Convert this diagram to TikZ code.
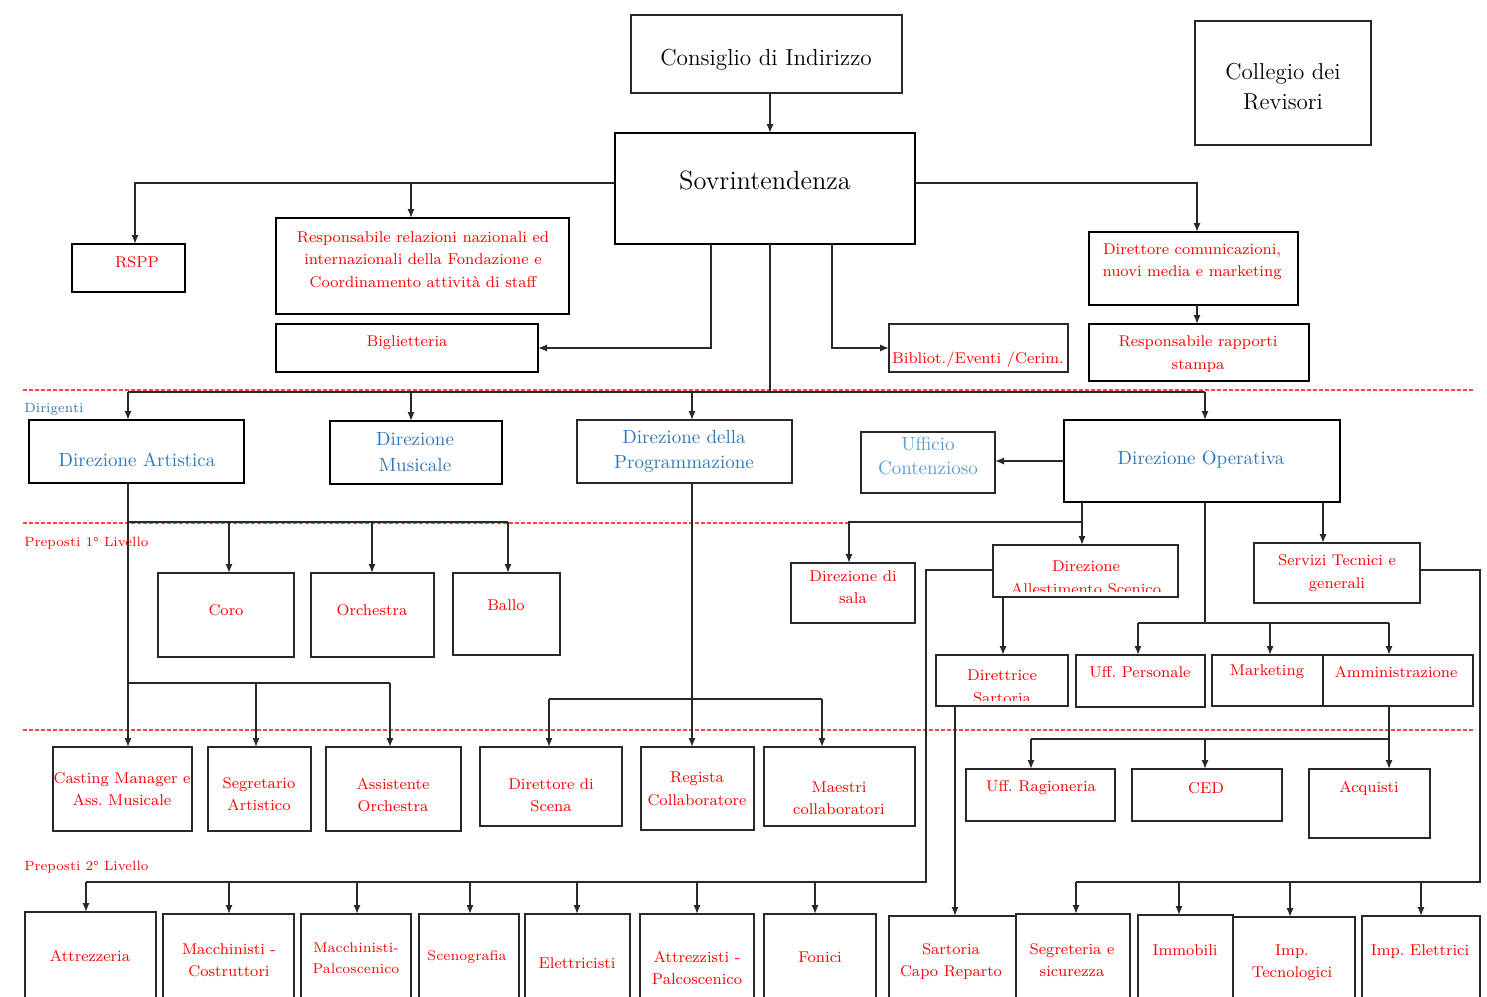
\documentclass[tikz,border=0pt]{standalone}
\usetikzlibrary{arrows.meta,fit}
\definecolor{rd}{RGB}{255,0,0}
\definecolor{bl}{RGB}{46,117,182}
\definecolor{lbl}{RGB}{91,155,213}
\definecolor{dsh}{RGB}{255,70,70}
\definecolor{ln}{RGB}{40,40,40}
\newcommand\bx[6][]{\node[box,#1,fit={(#3,#4)(#5,#6)}] (#2) {};}
\begin{document}
\frenchspacing
\begin{tikzpicture}[x=0.5pt,y=-0.5pt,
  box/.style={draw=ln,line width=0.7pt,inner sep=0pt,outer sep=0pt},
  thickbox/.style={line width=1.3pt,draw=black},
  thinbox/.style={line width=0.6pt},
  conn/.style={draw=ln,line width=0.8pt},
  arr/.style={conn,-{Latex[length=4.5pt,width=3.6pt]}},
  dline/.style={draw=dsh,line width=0.6pt,dash pattern=on 2pt off 1pt},
  rt/.style={text=rd,font=\fontsize{7.8}{11.2}\selectfont,align=center,inner sep=0pt},
  rs/.style={text=rd,font=\fontsize{7}{10.5}\selectfont,align=center,inner sep=0pt},
  bt/.style={text=bl,font=\fontsize{9.5}{12.8}\selectfont,align=center,inner sep=0pt},
  lt/.style={text=lbl,font=\fontsize{9.5}{12}\selectfont,align=center,inner sep=0pt},
  kt/.style={text=black,align=center,inner sep=0pt},
  lab/.style={font=\fontsize{6.7}{9}\selectfont,anchor=west,inner sep=0pt}]
\useasboundingbox (0,0) rectangle (1487,996);
\clip (0,0) rectangle (1487,996);

% level separators
\draw[dline] (23,390) -- (1473,390);
\draw[dline] (23,523) -- (849,523);
\draw[dline] (23,730) -- (1473,730);

% boxes
\bx[thinbox]{cons}{631}{15}{902}{93}
\bx[thinbox]{coll}{1195}{21}{1371}{145}
\bx[thickbox]{sov}{615}{133}{915}{244}
\bx[thickbox]{rspp}{72}{244}{185}{292}
\bx[thickbox]{resp}{276}{218}{569}{314}
\bx[thickbox]{big}{276}{324}{538}{372}
\bx{bib}{889}{324}{1068}{372}
\bx[thickbox]{dircom}{1089}{232}{1298}{305}
\bx[thickbox]{stampa}{1089}{324}{1309}{381}
\bx[thickbox]{dirart}{29}{420}{244}{483}
\bx[thickbox]{dirmus}{330}{421}{502}{484}
\bx{dirprog}{577}{420}{792}{483}
\bx{uff}{861}{432}{995}{493}
\bx[thickbox]{dirop}{1064}{420}{1340}{502}
\bx{coro}{158}{573}{294}{657}
\bx{orch}{311}{573}{434}{657}
\bx{ballo}{453}{573}{560}{655}
\bx{sala}{791}{563}{915}{623}
\bx{allest}{993}{545}{1178}{597}
\bx{serv}{1254}{543}{1420}{603}
\bx{dirsart}{936}{655}{1068}{706}
\bx{pers}{1076}{655}{1205}{707}
\bx{mkt}{1212}{655}{1323}{706}
\bx{amm}{1323}{655}{1473}{706}
\bx{casting}{53}{747}{192}{831}
\bx{segr}{208}{747}{311}{831}
\bx{assist}{326}{747}{461}{831}
\bx{dirscena}{480}{747}{622}{826}
\bx{regista}{641}{747}{754}{830}
\bx{maestri}{764}{747}{915}{826}
\bx{rag}{966}{769}{1115}{821}
\bx{ced}{1132}{769}{1282}{821}
\bx{acq}{1309}{769}{1430}{838}
\bx{attrz}{25}{912}{156}{1010}
\bx{maccc}{163}{914}{294}{1010}
\bx{maccp}{301}{914}{411}{1010}
\bx{scen}{419}{914}{519}{1010}
\bx{elett}{525}{914}{630}{1010}
\bx{attrp}{640}{914}{754}{1010}
\bx{fonici}{764}{914}{876}{1010}
\bx{sart}{889}{916}{1016}{1010}
\bx{segsic}{1016}{914}{1130}{1010}
\bx{immob}{1138}{915}{1233}{1010}
\bx{imptec}{1233}{917}{1355}{1010}
\bx{impel}{1362}{916}{1480}{1010}

% connectors: top
\draw[arr] (cons.south -| 770,0) -- (sov.north -| 770,0);
\draw[arr] (sov.west |- 0,183) -| (rspp.north -| 135,0);
\coordinate (jr) at (411,183);
\draw[arr] (jr) -- (resp.north -| jr);
\draw[arr] (sov.east |- 0,183) -| (dircom.north -| 1197,0);
\draw[arr] (dircom.south -| 1197,0) -- (stampa.north -| 1197,0);
\draw[arr] (sov.south -| 711,0) |- (big.east);
\draw[arr] (sov.south -| 832,0) |- (bib.west);

% trunk to Dirigenti
\coordinate (t) at (770,392);
\coordinate (tl) at (128,392);
\coordinate (tr) at (1205,392);
\draw[conn] (sov.south -| t) -- (t);
\draw[conn] (tl) -- (tr);
\draw[arr] (tl) -- (dirart.north -| tl);
\draw[arr] (tl -| 411,0) -- (dirmus.north -| 411,0);
\draw[arr] (tl -| 692,0) -- (dirprog.north -| 692,0);
\draw[arr] (tr) -- (dirop.north -| tr);
\draw[arr] (dirop.west) -- (uff.east |- dirop.west);

% Direzione Artistica
\draw[arr] (dirart.south -| 128,0) -- (casting.north -| 128,0);
\coordinate (a1) at (128,522);
\coordinate (a2) at (508,522);
\draw[conn] (a1) -- (a2);
\draw[arr] (a1 -| 229,0) -- (coro.north -| 229,0);
\draw[arr] (a1 -| 372,0) -- (orch.north -| 372,0);
\draw[arr] (a2) -- (ballo.north -| a2);
\coordinate (b1) at (128,683);
\coordinate (b2) at (390,683);
\draw[conn] (b1) -- (b2);
\draw[arr] (b1 -| 256,0) -- (segr.north -| 256,0);
\draw[arr] (b2) -- (assist.north -| b2);

% Direzione della Programmazione
\draw[arr] (dirprog.south -| 692,0) -- (regista.north -| 692,0);
\coordinate (p1) at (549,699);
\coordinate (p2) at (822,699);
\draw[conn] (p1) -- (p2);
\draw[arr] (p1) -- (dirscena.north -| p1);
\draw[arr] (p2) -- (maestri.north -| p2);

% Direzione Operativa
\draw[arr] (dirop.south -| 1082,0) -- (allest.north -| 1082,0);
\coordinate (o1) at (1082,522);
\draw[arr] (o1) -| (sala.north -| 849,0);
\coordinate (o2) at (1205,623);
\coordinate (o3) at (1138,623);
\coordinate (o4) at (1389,623);
\draw[conn] (dirop.south -| o2) -- (o2);
\draw[conn] (o3) -- (o4);
\draw[arr] (o3) -- (pers.north -| o3);
\draw[arr] (o2 -| 1270,0) -- (mkt.north -| 1270,0);
\draw[arr] (o4) -- (amm.north -| o4);
\draw[arr] (dirop.south -| 1323,0) -- (serv.north -| 1323,0);

% Direzione Allestimento Scenico
\draw[arr] (allest.south -| 1003,0) -- (dirsart.north -| 1003,0);
\coordinate (s1) at (926,882);
\coordinate (s0) at (86,882);
\draw[conn] (allest.west |- 0,570) -| (s1) -- (s0);
\foreach \n/\x in {attrz/86,maccc/229,maccp/357,scen/470,elett/577,attrp/697,fonici/815}
  \draw[arr] (s0 -| \x,0) -- (\n.north -| \x,0);
\draw[arr] (dirsart.south -| 955,0) -- (sart.north -| 955,0);

% Servizi Tecnici
\coordinate (v1) at (1480,882);
\coordinate (v0) at (1076,882);
\draw[conn] (serv.east |- 0,570) -| (v1) -- (v0);
\foreach \n/\x in {segsic/1076,immob/1179,imptec/1290,impel/1421}
  \draw[arr] (v0 -| \x,0) -- (\n.north -| \x,0);

% Amministrazione
\coordinate (m1) at (1389,739);
\coordinate (m0) at (1031,739);
\draw[conn] (amm.south -| m1) -- (m1) -- (m0);
\foreach \n/\x in {rag/1031,ced/1205,acq/1389}
  \draw[arr] (m0 -| \x,0) -- (\n.north -| \x,0);

% level labels
\node[lab,text=bl] (ldir) at (24,409) {Dirigenti};
\node[lab,text=rd] (lp1) at (24,543) {Preposti 1° Livello};
\node[lab,text=rd] (lp2) at (24,867) {Preposti 2° Livello};

% texts
\node[kt,font=\fontsize{11.6}{15}\selectfont] (tcons) at (766,60) {Consiglio di Indirizzo};
\node[kt,font=\fontsize{11.5}{15}\selectfont] (tcoll) at (1283,87) {Collegio dei\\Revisori};
\node[kt,font=\fontsize{13.2}{16}\selectfont] (tsov) at (765,180) {Sovrintendenza};
\node[rt] (trspp) at (137,262) {RSPP};
\node[rt] (tresp) at (423,259.5) {Responsabile relazioni nazionali  ed\\internazionali della Fondazione e\\Coordinamento attività di staff};
\node[rt] (tbig) at (407,343) {Biglietteria};
\node[rt] (tbib) at (978,360) {Bibliot./Eventi /Cerim.};
\node[rt] (tdircom) at (1192,261.5) {Direttore comunicazioni,\\nuovi media e marketing};
\node[rt] (tstampa) at (1198,354) {Responsabile rapporti\\stampa};
\node[bt] (tdirart) at (137,460) {Direzione Artistica};
\node[bt] (tdirmus) at (415,452) {Direzione\\Musicale};
\node[bt] (tdirprog) at (684,451.5) {Direzione della\\Programmazione};
\node[lt] (tuff) at (928,456) {Ufficio\\Contenzioso};
\node[bt] (tdirop) at (1201,460) {Direzione Operativa};
\node[rt] (tcoro) at (226,610) {Coro};
\node[rt] (torch) at (372,610) {Orchestra};
\node[rt] (tballo) at (506,605) {Ballo};
\node[rt] (tsala) at (853,587) {Direzione di\\sala};
\begin{scope}
  \clip (993,545) rectangle (1178,591);
  \node[rt] (tallest) at (1086,578) {Direzione\\Allestimento Scenico};
\end{scope}
\node[rt] (tserv) at (1337,573) {Servizi Tecnici e\\generali};
\begin{scope}
  \clip (936,655) rectangle (1068,700);
  \node[rt] (tdirsart) at (1002,687) {Direttrice\\Sartoria};
\end{scope}
\node[rt] (tpers) at (1140,672) {Uff. Personale};
\node[rt] (tmkt) at (1267,672) {Marketing};
\node[rt] (tamm) at (1396,672) {Amministrazione};
\node[rt] (tcasting) at (122,789) {Casting Manager e\\Ass. Musicale};
\node[rt] (tsegr) at (259,794) {Segretario\\Artistico};
\node[rt] (tassist) at (393,795) {Assistente\\Orchestra};
\node[rt] (tdirscena) at (551,795) {Direttore di\\Scena};
\node[rt] (tregista) at (697,789) {Regista\\Collaboratore};
\node[rt] (tmaestri) at (839,798) {Maestri\\collaboratori};
\node[rt] (trag) at (1041,788) {Uff. Ragioneria};
\node[rt] (tced) at (1206,788) {CED};
\node[rt] (tacq) at (1369,788) {Acquisti};
\node[rt] (tattrz) at (90,956) {Attrezzeria};
\node[rt] (tmaccc) at (229,960) {Macchinisti -\\Costruttori};
\node[rs] (tmaccp) at (356,958.5) {Macchinisti-\\Palcoscenico};
\node[rs] (tscen) at (467,957) {Scenografia};
\node[rt] (telett) at (577,963) {Elettricisti};
\node[rt] (tattrp) at (697,968) {Attrezzisti -\\Palcoscenico};
\node[rt] (tfonici) at (820,957) {Fonici};
\node[rt] (tsart) at (951,961.5) {Sartoria\\Capo Reparto};
\node[rt] (tsegsic) at (1072,960) {Segreteria e\\sicurezza};
\node[rt] (timmob) at (1185,950) {Immobili};
\node[rt] (timptec) at (1292,963) {Imp.\\Tecnologici};
\node[rt] (timpel) at (1420,952) {Imp. Elettrici};
\end{tikzpicture}
\end{document}
